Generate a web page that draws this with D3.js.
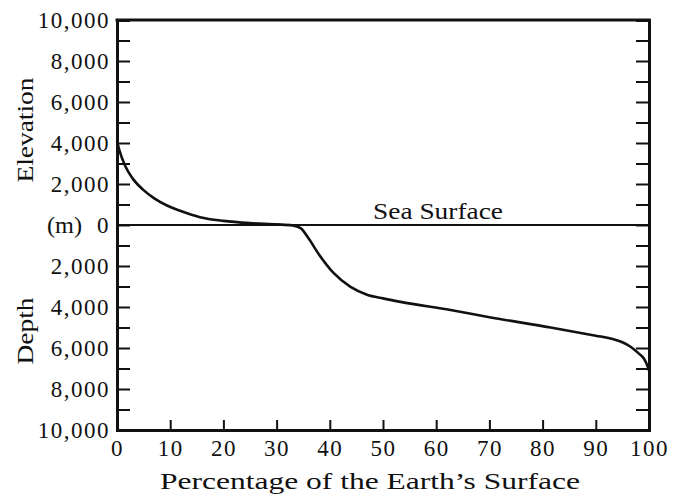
<!DOCTYPE html>
<html><head><meta charset="utf-8">
<script src="https://cdn.jsdelivr.net/npm/d3@7"></script>
<style>
body{margin:0;background:#fff;}
svg{display:block;}
text{font-family:"Liberation Serif","Times New Roman",Tinos,Times,"Nimbus Roman","FreeSerif",serif !important;fill:#111;}
</style></head>
<body><svg id="c" width="684" height="499"></svg>
<script>
// Hypsometric curve: percentage of Earth's surface vs elevation (m; negative = depth)
const percent = [0, 0.5, 1.5, 3, 5, 7, 9.4, 12, 15.6, 20, 25, 30, 33, 34.5, 36, 38, 40.7, 43.9, 47, 50, 53.3, 62.7, 70, 81.5, 90, 93, 95, 96.6, 98, 99, 99.6, 100];
const elevation = [4100, 3600, 2900, 2250, 1700, 1300, 950, 680, 380, 200, 90, 30, -20, -150, -650, -1450, -2340, -3020, -3400, -3580, -3750, -4150, -4500, -5000, -5400, -5550, -5720, -5950, -6250, -6500, -6800, -7100];
const xTickLabels = [0, 10, 20, 30, 40, 50, 60, 70, 80, 90, 100];
const yTickLabels = [10000, 8000, 6000, 4000, 2000, 0, -2000, -4000, -6000, -8000, -10000];
const yMinorTicks = d3.range(-9000, 10000, 1000);
const xInnerTicks = [10, 20, 30, 40, 50, 60, 70, 80, 90];

const svg = d3.select("#c");
const L = 117, R = 649, T = 20, B = 430;
const x = d3.scaleLinear().domain([0, 100]).range([L, R]);
const y = d3.scaleLinear().domain([-10000, 10000]).range([B, T]);
const fmt = d3.format(",");
const lblFont = "23px";

// frame ticks
const gl = svg.append("g").attr("transform", `translate(${L},0)`)
  .call(d3.axisLeft(y).tickValues(yMinorTicks).tickSize(-13).tickFormat(""));
const gr = svg.append("g").attr("transform", `translate(${R},0)`)
  .call(d3.axisRight(y).tickValues(yMinorTicks).tickSize(-13).tickFormat(""));
const gb = svg.append("g").attr("transform", `translate(0,${B})`)
  .call(d3.axisBottom(x).tickValues(xInnerTicks).tickSize(-10).tickFormat(""));
[gl, gr, gb].forEach(g => {
  g.select(".domain").attr("stroke", "#111").attr("stroke-width", 3);
  g.selectAll(".tick line").attr("stroke", "#111").attr("stroke-width", 2);
});
// top border
svg.append("line").attr("x1", L - 1.5).attr("x2", R + 1.5).attr("y1", T).attr("y2", T)
  .attr("stroke", "#111").attr("stroke-width", 3);

// left labels
const yl = svg.append("g").attr("transform", `translate(${L},0)`)
  .call(d3.axisLeft(y).tickValues(yTickLabels).tickSize(0).tickPadding(7)
    .tickFormat(d => fmt(Math.abs(d))));
yl.select(".domain").remove();
yl.selectAll("text").attr("font-size", lblFont)
  .attr("letter-spacing", "1.5px").attr("fill", "#111");

// bottom labels
const xl = svg.append("g").attr("transform", `translate(0,${B})`)
  .call(d3.axisBottom(x).tickValues(xTickLabels).tickSize(0).tickPadding(10).tickFormat(d3.format("d")));
xl.select(".domain").remove();
xl.selectAll("text").attr("font-size", lblFont)
  .attr("letter-spacing", "1.5px").attr("fill", "#111");

// sea surface line
svg.append("line").attr("x1", x(0)).attr("x2", x(100)).attr("y1", y(0)).attr("y2", y(0))
  .attr("stroke", "#111").attr("stroke-width", 2.2);
svg.append("text").attr("x", 373).attr("y", 219).attr("font-size", "24px")
  .attr("textLength", 130).attr("lengthAdjust", "spacingAndGlyphs").text("Sea Surface");

// curve
const pts = percent.map((p, i) => [p, elevation[i]]);
svg.append("path").datum(pts)
  .attr("d", d3.line().x(d => x(d[0])).y(d => y(d[1])).curve(d3.curveMonotoneX))
  .attr("fill", "none").attr("stroke", "#111").attr("stroke-width", 2.6);

// axis titles
svg.append("text").attr("x", (160 + 580) / 2).attr("y", 489).attr("text-anchor", "middle")
  .attr("font-size", "24px").attr("textLength", 420).attr("lengthAdjust", "spacingAndGlyphs")
  .text("Percentage of the Earth\u2019s Surface");
svg.append("text").attr("transform", "translate(33,130) rotate(-90)").attr("text-anchor", "middle")
  .attr("font-size", "24px").attr("textLength", 105).attr("lengthAdjust", "spacingAndGlyphs")
  .text("Elevation");
svg.append("text").attr("transform", "translate(33,331) rotate(-90)").attr("text-anchor", "middle")
  .attr("font-size", "24px").attr("textLength", 67).attr("lengthAdjust", "spacingAndGlyphs")
  .text("Depth");
svg.append("text").attr("x", 47).attr("y", 233).attr("font-size", "23px")
  .attr("textLength", 35).attr("lengthAdjust", "spacingAndGlyphs").text("(m)");
</script></body></html>
